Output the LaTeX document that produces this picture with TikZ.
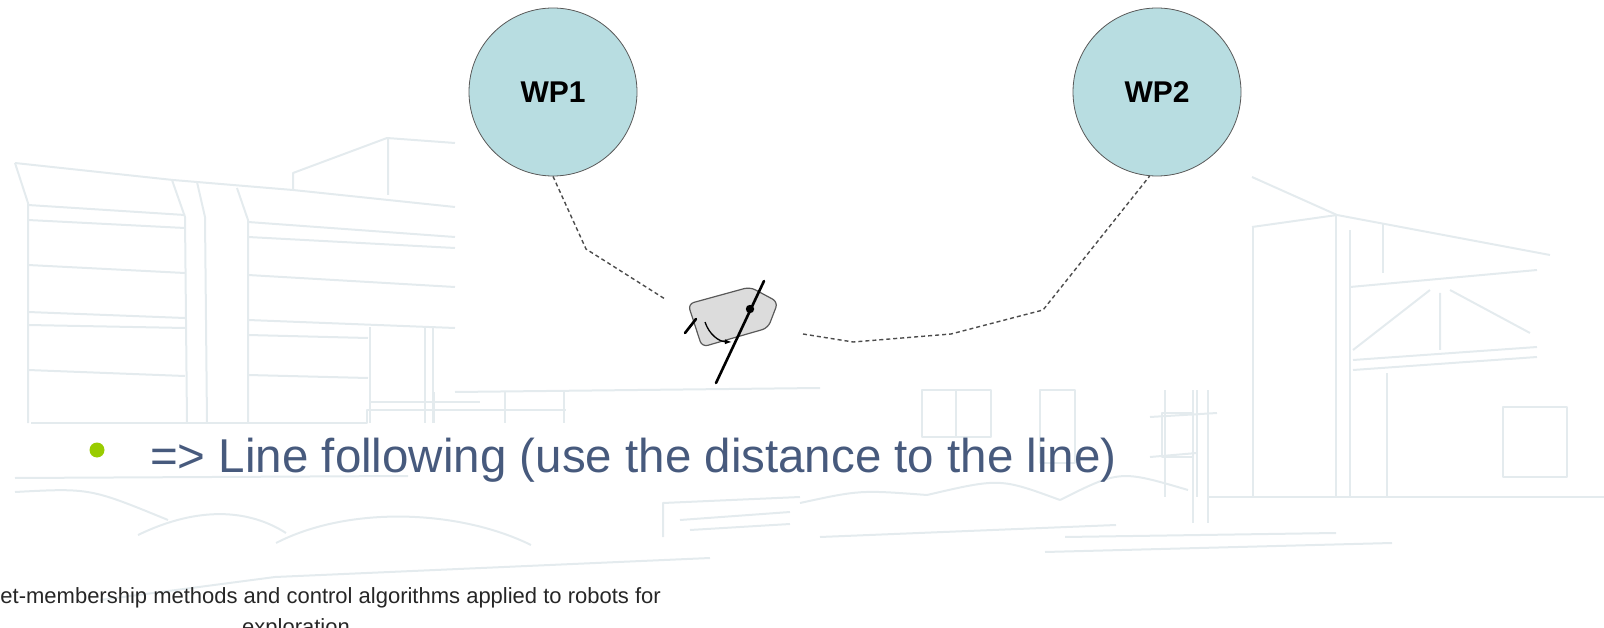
\documentclass[tikz,border=0pt]{standalone}
\usepackage{fontspec}
\setmainfont{Liberation Sans}
\usetikzlibrary{arrows.meta,positioning}
\definecolor{slate}{HTML}{475A7D}
\definecolor{lime}{HTML}{99CC00}
\definecolor{wpfill}{HTML}{B8DDE1}
\definecolor{sketch}{HTML}{E4EBEE}
\definecolor{bodygray}{HTML}{DCDCDC}

\begin{document}
\begin{tikzpicture}[x=1pt,y=-1pt,
 wp/.style={circle,draw=black!65,line width=0.8pt,fill=wpfill,minimum size=168pt,inner sep=0pt,font=\fontsize{30}{30}\selectfont\bfseries},
 track/.style={draw=black!70,line width=1.4pt,dash pattern=on 4pt off 3pt},
 sk/.style={draw=sketch,line width=2pt,line join=round},
 heading/.style={line width=2.6pt,line cap=round}]
\useasboundingbox (0,0) rectangle (1604,628);
\clip (0,0) rectangle (1604,628);

% building sketch, left part
\draw[sk] (15,163) -- (173,180) -- (293,190) -- (455,207);
\draw[sk] (15,163) -- (28,203) -- (28,423);
\draw[sk] (172,180) -- (185,217) -- (187,423);
\draw[sk] (197,182) -- (205,217) -- (207,423);
\draw[sk] (237,188) -- (248,220) -- (248,423);
\foreach \ya/\yb in {205/215,220/228,265/273,312/318,325/328,370/376}
  \draw[sk] (28,\ya) -- (185,\yb);
\foreach \ya/\yb in {222/237,237/248,275/287,320/328}
  \draw[sk] (248,\ya) -- (455,\yb);
\draw[sk] (248,335) -- (368,338) (248,375) -- (368,378);
\draw[sk] (293,190) -- (293,173) -- (387,138) -- (455,143) (388,138) -- (388,195);
\foreach \xx in {370,425,433}
  \draw[sk] (\xx,327) -- (\xx,423);
\draw[sk] (370,402) -- (480,402);
\draw[sk] (31,423) -- (367,423) -- (367,410) -- (566,410);
\foreach \xx in {434,505,564}
  \draw[sk] (\xx,392) -- (\xx,423);
\draw[sk] (455,392) -- (820,388);

% middle windows and post
\draw[sk] (922,390) rectangle (991,437) (956,390) -- (956,437);
\draw[sk] (1040,390) rectangle (1075,463);
\draw[sk] (1162,413) rectangle (1193,457);
\draw[sk] (1193,390) -- (1193,523) (1208,390) -- (1208,523);

% building sketch, right part
\draw[sk] (1252,177) -- (1337,215) -- (1550,255);
\draw[sk] (1252,227) -- (1337,215);
\foreach \xx/\ya in {1253/227,1336/215,1350/230}
  \draw[sk] (\xx,\ya) -- (\xx,497);
\draw[sk] (1383,223) -- (1383,273) (1387,373) -- (1387,497);
\draw[sk] (1350,287) -- (1537,270);
\draw[sk] (1353,350) -- (1430,290) (1450,290) -- (1530,333) (1440,293) -- (1440,350);
\draw[sk] (1353,360) -- (1537,347) (1353,370) -- (1537,357);
\draw[sk] (1503,407) rectangle (1567,477);
\draw[sk] (1208,497) -- (1604,497);
\draw[sk] (1150,417) -- (1217,413) (1150,457) -- (1197,453);
\foreach \xx in {1165,1197}
  \draw[sk] (\xx,390) -- (\xx,497);

% bridge arcs and ground lines
\draw[sk] (15,478) -- (408,476);
\draw[sk] (15,492) .. controls (90,488) .. (168,520);
\draw[sk] (138,535) .. controls (200,505) and (250,510) .. (286,533);
\draw[sk] (276,543) .. controls (350,505) and (460,510) .. (531,545);
\draw[sk] (800,503) .. controls (860,490) .. (927,495) .. controls (1000,478) .. (1060,500);
\draw[sk] (1060,500) .. controls (1120,470) .. (1188,490);
\draw[sk] (820,537) -- (1116,525) (1065,537) -- (1336,533) (1045,552) -- (1392,543);
\draw[sk] (663,537) -- (663,503) -- (800,497) (680,520) -- (790,512) (690,530) -- (790,524);
\draw[sk] (100,600) -- (275,577) -- (710,558);

% waypoints
\node[wp] (wp1) at (553,92) {WP1};
\node[wp] (wp2) at (1157,92) {WP2};

% robot with its heading line
\coordinate (rin) at (665,299);
\coordinate (rout) at (803,334);
\draw[draw=black!65,line width=1.2pt,fill=bodygray,rounded corners=6pt]
  (688,304) -- (750,287) -- (778,302) -- (768,328) -- (702,347) -- cycle;
\draw[heading] (716,383) -- (764,281);
\draw[heading] (685,333) -- (696,319);
\fill (750,309) circle (4.2pt);
\draw[line width=1.3pt,-{Latex[length=7pt,width=5pt]}] (705,322) to[bend right=35] (732,342);

% travelled path and the path ahead
\draw[track] (wp1.south) -- (586,249) -- (rin);
\draw[track] (rout) -- (853,342) -- (951,334) -- (1043,310) -- (wp2.-95);

% bullet line
\node[circle,fill=lime,minimum size=15pt,inner sep=0pt] (dot) at (97,450) {};
\node[anchor=base west,text=slate,font=\fontsize{47.5}{52}\selectfont,inner sep=0pt] (rule) at (150,472)
  {=> Line following (use the distance to the line)};

% footer
\node[anchor=base east,font=\fontsize{22}{26}\selectfont,text=black!85,inner sep=0pt] (footline) at (661,603)
  {et-membership methods and control algorithms applied to robots for};
\node[anchor=base,font=\fontsize{22}{26}\selectfont,text=black!85,inner sep=0pt] (footword) at (296,634)
  {exploration};
\end{tikzpicture}
\end{document}
